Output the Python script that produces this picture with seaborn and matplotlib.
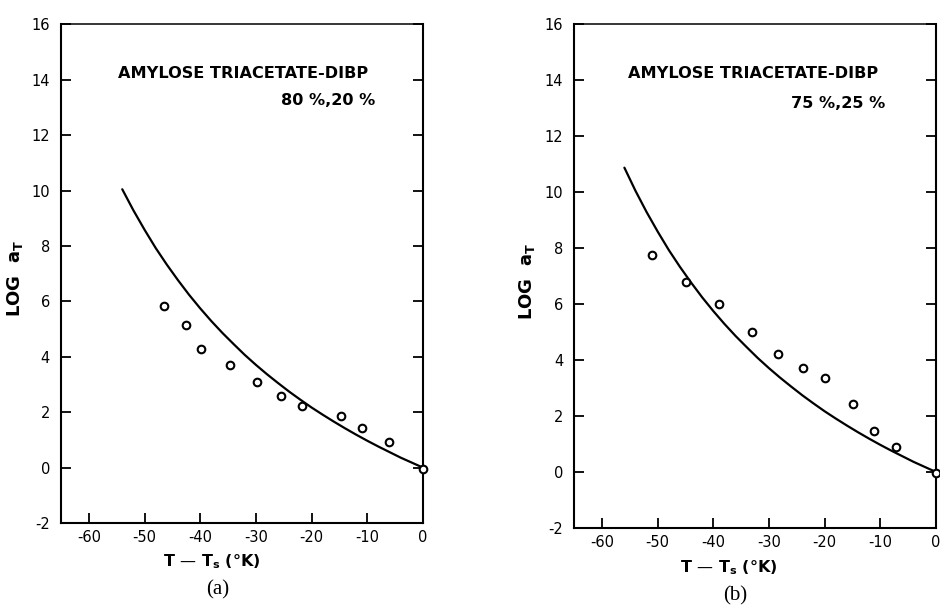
import matplotlib
matplotlib.use("Agg")
import matplotlib.pyplot as plt
import seaborn as sns
import pandas as pd

# Solid curve (same curve, panel (b) starts further left)
curve_x = [-56, -54, -52, -50, -48, -46, -44, -42, -40, -38, -36, -34, -32, -30,
           -28, -26, -24, -22, -20, -18, -16, -14, -12, -10, -8, -6, -4, -2, 0]
curve_y = [10.88, 10.05, 9.29, 8.59, 7.93, 7.33, 6.77, 6.24, 5.75, 5.29, 4.86, 4.46,
           4.07, 3.71, 3.37, 3.05, 2.74, 2.45, 2.17, 1.91, 1.66, 1.42, 1.19, 0.97,
           0.76, 0.56, 0.36, 0.18, 0.0]
curve_start = {"a": -54, "b": -56}

# Measured points
a_x = [-46.5, -42.6, -39.9, -34.7, -29.8, -25.5, -21.8, -14.8, -11.0, -6.1, 0.0]
a_y = [5.85, 5.15, 4.30, 3.70, 3.10, 2.58, 2.22, 1.86, 1.42, 0.92, -0.05]
b_x = [-51.1, -44.9, -38.9, -33.0, -28.3, -23.8, -19.9, -14.9, -11.1, -7.1, 0.0]
b_y = [7.75, 6.80, 6.00, 5.00, 4.22, 3.73, 3.35, 2.44, 1.48, 0.88, -0.05]

titles = {"a": "80 %,20 %", "b": "75 %,25 %"}
x_ticks = [-60, -50, -40, -30, -20, -10, 0]
y_ticks = [-2, 0, 2, 4, 6, 8, 10, 12, 14, 16]

sns.set_style("white")
plt.rcParams["font.family"] = ["DejaVu Sans"]
plt.rcParams["axes.unicode_minus"] = False
plt.rcParams["mathtext.default"] = "regular"
for k in ["text.color", "axes.labelcolor", "xtick.color", "ytick.color"]:
    plt.rcParams[k] = "black"

fig = plt.figure(figsize=(9.4, 6.06), dpi=100)
ax_a = fig.add_axes([0.0649, 0.137, 0.385, 0.8226])
ax_b = fig.add_axes([0.611, 0.129, 0.3845, 0.8306])

panels = [
    (ax_a, "a", a_x, a_y, (-54.8, 14.24), (-8.6, 13.27), (0.417, -0.058), (0.434, -0.134), (-0.099, 0.491)),
    (ax_b, "b", b_x, b_y, (-55.3, 14.23), (-9.15, 13.16), (0.428, -0.060), (0.445, -0.136), (-0.103, 0.49)),
]

for ax, key, px, py, t1, t2, xl, cap, yl in panels:
    curve = pd.DataFrame({"x": curve_x, "y": curve_y})
    curve = curve[curve["x"] >= curve_start[key]]
    pts = pd.DataFrame({"x": px, "y": py})

    sns.lineplot(data=curve, x="x", y="y", ax=ax, color="black", linewidth=1.6, zorder=2)
    sns.scatterplot(data=pts, x="x", y="y", ax=ax, marker="o", s=30,
                    facecolor="white", edgecolor="black", linewidth=1.5,
                    zorder=4, clip_on=False)

    ax.set_xlim(-65, 0)
    ax.set_ylim(-2, 16)
    ax.set_xticks(x_ticks)
    ax.set_yticks(y_ticks)
    ax.tick_params(axis="both", direction="in", length=7, width=1.3,
                   labelsize=10.5, colors="black")
    ax.tick_params(axis="y", left=True, right=True, pad=8)
    ax.tick_params(axis="x", bottom=True, top=False, pad=5)
    for side in ["left", "right", "bottom", "top"]:
        ax.spines[side].set_visible(True)
        ax.spines[side].set_color("black")
        ax.spines[side].set_linewidth(1.5)
    ax.spines["top"].set_linewidth(1.1)

    ax.text(t1[0], t1[1], "AMYLOSE TRIACETATE-DIBP", ha="left", va="center",
            fontsize=11.6, fontweight="bold", color="black")
    ax.text(t2[0], t2[1], titles[key], ha="right", va="center",
            fontsize=11.6, fontweight="bold", color="black")

    ax.set_xlabel(r"T — T$_\mathbf{s}$ (°K)", fontsize=11.5, fontweight="bold")
    ax.xaxis.set_label_coords(xl[0], xl[1])
    ax.set_ylabel(r"LOG  $\mathbf{a}_\mathbf{T}$", fontsize=13, fontweight="bold")
    ax.yaxis.set_label_coords(yl[0], yl[1])

    ax.text(cap[0], cap[1], f"({key})", transform=ax.transAxes, ha="center",
            va="center", fontsize=15, family="Liberation Serif", color="black")

fig.savefig("out.png", dpi=100)
